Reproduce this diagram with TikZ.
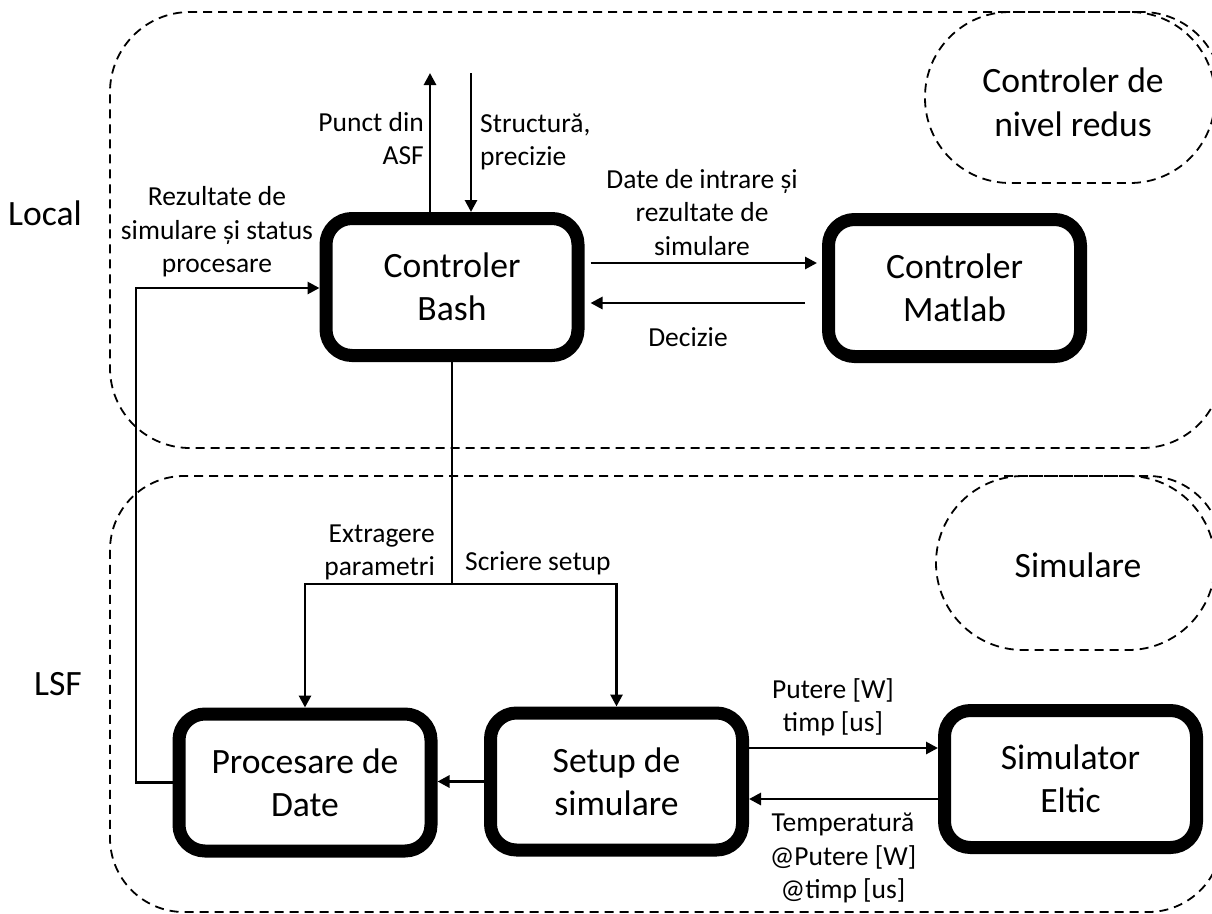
\documentclass[tikz,border=0pt]{standalone}
\usepackage{fontspec}
\setmainfont{Carlito}
\usetikzlibrary{arrows.meta,calc}
\begin{document}
\begin{tikzpicture}[x=1pt,y=-1pt,
  region/.style={draw,dashed,dash pattern=on 9pt off 6pt,line width=1.8pt,inner sep=0pt},
  block/.style={draw,line width=13pt,rounded corners=26pt,minimum width=252pt,minimum height=137pt,
     align=center,inner sep=0pt,font=\fontsize{35.6}{43}\selectfont},
  big/.style={inner sep=0pt,align=center,font=\fontsize{35.6}{44}\selectfont},
  small/.style={inner sep=0pt,font=\fontsize{27.5}{33.5}\selectfont},
  conn/.style={line width=2.8pt},
  arr/.style={line width=2.8pt,-{Triangle[length=12pt,width=12pt]}}]
\useasboundingbox (0,0) rectangle (1212,913);
\clip (0,0) rectangle (1212,913);

% dashed regions
\node[region,rounded corners=80pt,minimum width=1112pt,minimum height=436pt] (local) at (666,230) {};
\node[region,rounded corners=74pt,minimum width=1112pt,minimum height=436pt] (lsf) at (666,694) {};
\node[region,rounded corners=85pt,minimum width=290pt,minimum height=171pt] (lowctl) at (1070,97.5) {};
\node[region,rounded corners=87pt,minimum width=279pt,minimum height=174pt] (simreg) at (1075.5,563) {};

\node[big] (lowctltxt) at (1073,102) {Controler de\\nivel redus};
\node[big] (simregtxt) at (1078,565) {Simulare};
\node[big,anchor=east] (localtxt) at (82,213) {Local};
\node[big,anchor=east] (lsftxt) at (82,684) {LSF};

% blocks
\node[block] (bash) at (452,287) {Controler\\Bash};
\node[block] (matlab) at (954.5,288) {Controler\\Matlab};
\node[block] (proc) at (305,782.5) {Procesare de\\Date};
\node[block] (setup) at (616.5,781.5) {Setup de\\simulare};
\node[block] (sim) at (1070.5,779) {Simulator\\Eltic};

% helper coordinates
\coordinate (asfout) at (430,73);
\coordinate (structin) at (471,73);
\coordinate (fb) at (136,288);
\coordinate (ytoM) at (0,263);
\coordinate (yfromM) at (0,303);
\coordinate (split) at (0,584);
\coordinate (ytoS) at (0,748);
\coordinate (yfromS) at (0,799);

% connectors
\draw[arr] (bash.north -| asfout) -- (asfout);
\draw[arr] (structin) -- (bash.north -| structin);
\draw[arr,shorten <=6pt,shorten >=5pt] (bash.east |- ytoM) -- (matlab.west |- ytoM);
\draw[arr,shorten <=17pt,shorten >=6pt] (matlab.west |- yfromM) -- (bash.east |- yfromM);
\draw[arr] (proc.west) -| (fb) -- (bash.west |- fb);
\draw[conn] (bash.south) -- (bash.south |- split);
\draw[arr] (bash.south |- split) -| (proc.north);
\draw[arr] (bash.south |- split) -| (setup.north);
\draw[arr] (setup.west) -- (proc.east |- setup.west);
\draw[arr] (setup.east |- ytoS) -- (sim.west |- ytoS);
\draw[arr] (sim.west |- yfromS) -- (setup.east |- yfromS);

% labels
\node[small,anchor=east,align=right] (lblasf) at (424,138.5) {Punct din\\ASF};
\node[small,anchor=west,align=left] (lblstruct) at (480,142) {Structură,\\precizie};
\node[small,align=center] (lblrez) at (217,232) {Rezultate de\\simulare și status\\procesare};
\node[small,align=center] (lbldate) at (702,212.5) {Date de intrare și\\rezultate de\\simulare};
\node[small] (lbldec) at (688,337) {Decizie};
\node[small,anchor=east,align=right] (lblextr) at (435,552.5) {Extragere\\parametri};
\node[small,anchor=west] (lblscr) at (465,563) {Scriere setup};
\node[small,align=center] (lblput) at (833,707.5) {Putere [W]\\timp [us]};
\node[small,align=center] (lbltemp) at (843,858) {Temperatură\\@Putere [W]\\@timp [us]};
\end{tikzpicture}
\end{document}
